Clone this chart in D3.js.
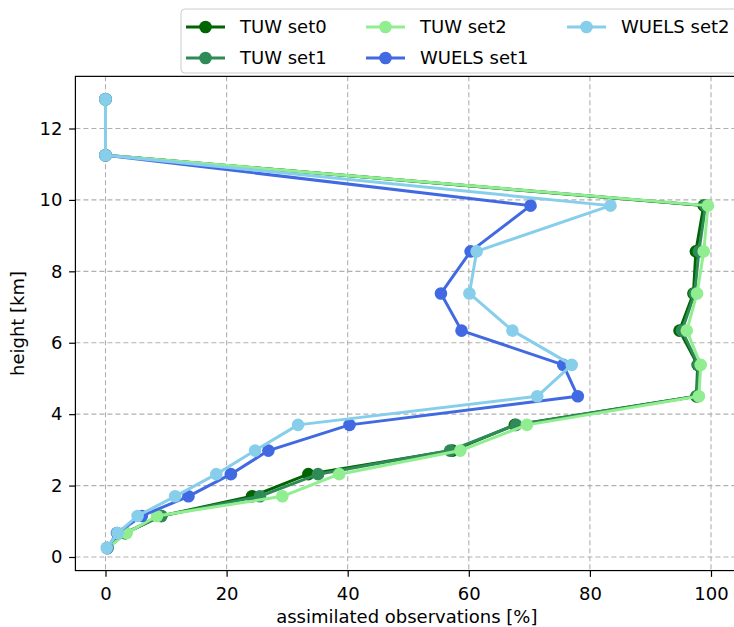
<!DOCTYPE html>
<html>
<head>
<meta charset="utf-8">
<script src="https://cdn.jsdelivr.net/npm/d3@7"></script>
<style>
  html, body { margin: 0; padding: 0; background: #fff; }
  svg { display: block; }
  text { font-family: "DejaVu Sans", sans-serif; fill: #000; }
</style>
</head>
<body>
<svg id="chart" width="734" height="627"></svg>
<script>
// Heights (km) of the observation levels
const heights = [0.25, 0.67, 1.15, 1.7, 2.32, 2.98, 3.7, 4.5, 5.38, 6.34, 7.38, 8.56, 9.84, 11.25, 12.82];

// Share of assimilated observations (%) per level and experiment
const tuwSet0   = [0.3, 3.2, 9.2, 24.2, 33.5, 57.3, 67.6, 97.6, 97.8, 94.8, 97.1, 97.5, 98.8, 0, 0];
const tuwSet1   = [0.3, 3.3, 9.2, 25.5, 35.1, 56.9, 67.8, 97.7, 97.9, 95.2, 97.3, 98.0, 99.1, 0, 0];
const tuwSet2   = [0.3, 3.5, 8.5, 29.2, 38.6, 58.6, 69.6, 98.0, 98.3, 96.0, 97.7, 98.8, 99.5, 0, 0];
const wuelsSet1 = [0.3, 1.9, 6.0, 13.7, 20.7, 26.9, 40.3, 78.0, 75.6, 58.8, 55.4, 60.3, 70.2, 0, 0];
const wuelsSet2 = [0.2, 2.0, 5.3, 11.5, 18.3, 24.7, 31.8, 71.3, 77.0, 67.2, 60.1, 61.3, 83.4, 0, 0];

const seriesNames  = ["TUW set0", "TUW set1", "TUW set2", "WUELS set1", "WUELS set2"];
const seriesValues = [tuwSet0, tuwSet1, tuwSet2, wuelsSet1, wuelsSet2];
const seriesColors = ["#006400", "#2e8b57", "#90ee90", "#4169e1", "#87ceeb"];

const xTicks = [0, 20, 40, 60, 80, 100];
const yTicks = [0, 2, 4, 6, 8, 10, 12];

const svg = d3.select("#chart");

const x = d3.scaleLinear().domain([0, 100]).range([105.5, 711]);
const y = d3.scaleLinear().domain([0, 12]).range([557, 128.5]);

// axes extent (5% padding around the data)
const xMin = -4.97, xMax = 104.5, yMin = -0.38, yMax = 13.46;
const axLeft = x(xMin), axRight = x(xMax), axTop = y(yMax), axBottom = y(yMin);

// dashed grid
const grid = svg.append("g")
  .attr("stroke", "#b0b0b0").attr("stroke-width", 1.1).attr("stroke-dasharray", "5,3");
grid.selectAll(".gx").data(xTicks).join("line")
  .attr("x1", d => x(d)).attr("x2", d => x(d)).attr("y1", axTop).attr("y2", axBottom);
grid.selectAll(".gy").data(yTicks).join("line")
  .attr("y1", d => y(d)).attr("y2", d => y(d)).attr("x1", axLeft).attr("x2", axRight);

// lines and markers
const line = d3.line().x(d => x(d[0])).y(d => y(d[1]));
const plot = svg.append("g");
seriesValues.forEach((vals, i) => {
  const pts = vals.map((v, j) => [v, heights[j]]);
  const g = plot.append("g");
  g.append("path").datum(pts).attr("d", line)
    .attr("fill", "none").attr("stroke", seriesColors[i])
    .attr("stroke-width", 3).attr("stroke-linejoin", "round");
  g.selectAll("circle").data(pts).join("circle")
    .attr("cx", d => x(d[0])).attr("cy", d => y(d[1])).attr("r", 6.3)
    .attr("fill", seriesColors[i]);
});

// axes
const xAxis = d3.axisBottom(x).tickValues(xTicks).tickSize(6.3).tickPadding(10).tickFormat(d3.format("d"));
const yAxis = d3.axisLeft(y).tickValues(yTicks).tickSize(6.3).tickPadding(6.7).tickFormat(d3.format("d"));

const gx = svg.append("g").attr("transform", `translate(0,${axBottom})`).call(xAxis);
const gy = svg.append("g").attr("transform", `translate(${axLeft},0)`).call(yAxis);
[gx, gy].forEach(g => {
  g.select(".domain").remove();
  g.selectAll("line").attr("stroke", "#000").attr("stroke-width", 1.2);
  g.selectAll("text").attr("font-size", 18).attr("font-family", "DejaVu Sans, sans-serif").attr("fill", "#000");
});

// spines
svg.append("rect")
  .attr("x", axLeft).attr("y", axTop).attr("width", axRight - axLeft).attr("height", axBottom - axTop)
  .attr("fill", "none").attr("stroke", "#000").attr("stroke-width", 1.2);

// axis titles
svg.append("text").attr("x", (axLeft + axRight) / 2).attr("y", 622.5)
  .attr("text-anchor", "middle").attr("font-size", 18).text("assimilated observations [%]");
svg.append("text").attr("transform", `translate(23.5,${(axTop + axBottom) / 2}) rotate(-90)`)
  .attr("text-anchor", "middle").attr("font-size", 18).text("height [km]");

// legend
const legend = svg.append("g");
legend.append("rect").attr("x", 181).attr("y", 9).attr("width", 600).attr("height", 64)
  .attr("rx", 4).attr("fill", "#fff").attr("fill-opacity", 0.8).attr("stroke", "#cccccc");
const legPos = [[186, 27], [186, 58], [366, 27], [366, 58], [567, 27]];
seriesNames.forEach((name, i) => {
  const [lx, ly] = legPos[i];
  const it = legend.append("g").attr("transform", `translate(${lx},${ly})`);
  it.append("line").attr("x1", 0).attr("x2", 39).attr("y1", 0).attr("y2", 0)
    .attr("stroke", seriesColors[i]).attr("stroke-width", 3);
  it.append("circle").attr("cx", 19.5).attr("cy", 0).attr("r", 6.3).attr("fill", seriesColors[i]);
  it.append("text").attr("x", 54).attr("y", 0).attr("dy", "0.35em")
    .attr("font-size", 18).text(name);
});
</script>
</body>
</html>
